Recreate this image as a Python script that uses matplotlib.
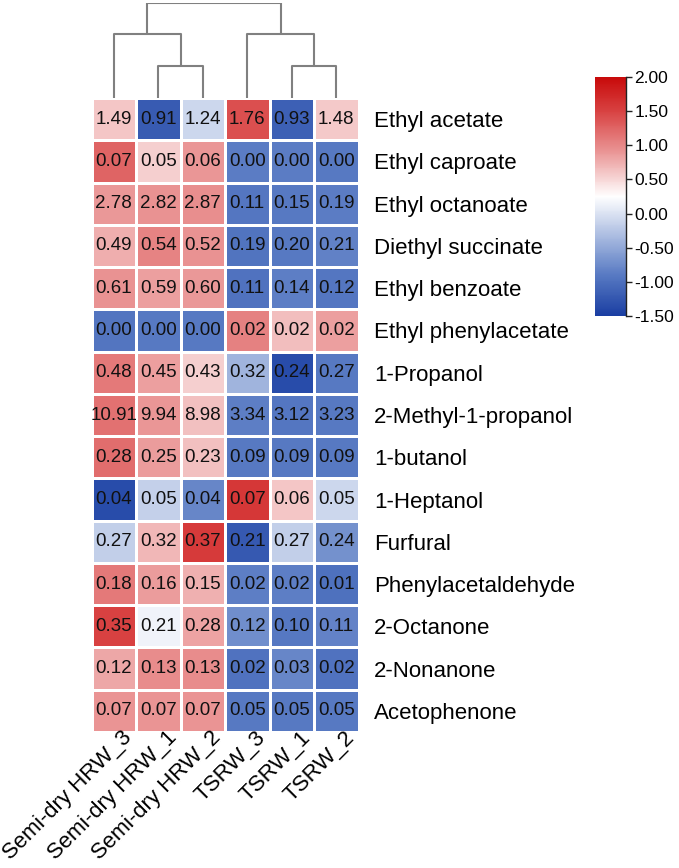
import numpy as np
import matplotlib
matplotlib.use("Agg")
import matplotlib.pyplot as plt
import matplotlib.transforms as mtrans
from matplotlib.colors import LinearSegmentedColormap, Normalize

plt.rcParams['font.family'] = ['Liberation Sans', 'DejaVu Sans']

samples = ["Semi-dry HRW_3", "Semi-dry HRW_1", "Semi-dry HRW_2", "TSRW_3", "TSRW_1", "TSRW_2"]
compounds = ["Ethyl acetate", "Ethyl caproate", "Ethyl octanoate", "Diethyl succinate",
             "Ethyl benzoate", "Ethyl phenylacetate", "1-Propanol", "2-Methyl-1-propanol",
             "1-butanol", "1-Heptanol", "Furfural", "Phenylacetaldehyde", "2-Octanone",
             "2-Nonanone", "Acetophenone"]

# displayed concentrations
values = [
    [1.49, 0.91, 1.24, 1.76, 0.93, 1.48],
    [0.07, 0.05, 0.06, 0.00, 0.00, 0.00],
    [2.78, 2.82, 2.87, 0.11, 0.15, 0.19],
    [0.49, 0.54, 0.52, 0.19, 0.20, 0.21],
    [0.61, 0.59, 0.60, 0.11, 0.14, 0.12],
    [0.00, 0.00, 0.00, 0.02, 0.02, 0.02],
    [0.48, 0.45, 0.43, 0.32, 0.24, 0.27],
    [10.91, 9.94, 8.98, 3.34, 3.12, 3.23],
    [0.28, 0.25, 0.23, 0.09, 0.09, 0.09],
    [0.04, 0.05, 0.04, 0.07, 0.06, 0.05],
    [0.27, 0.32, 0.37, 0.21, 0.27, 0.24],
    [0.18, 0.16, 0.15, 0.02, 0.02, 0.01],
    [0.35, 0.21, 0.28, 0.12, 0.10, 0.11],
    [0.12, 0.13, 0.13, 0.02, 0.03, 0.02],
    [0.07, 0.07, 0.07, 0.05, 0.05, 0.05],
]

# row-scaled colour scores
scores = [
    [0.60, -1.20, -0.10, 1.40, -1.15, 0.58],
    [1.25, 0.55, 0.90, -0.88, -0.88, -0.90],
    [0.89, 0.92, 0.96, -0.93, -0.91, -0.88],
    [0.75, 1.03, 0.92, -0.96, -0.90, -0.84],
    [0.93, 0.85, 0.89, -0.97, -0.86, -0.93],
    [-0.95, -0.90, -0.90, 1.05, 0.65, 0.85],
    [1.10, 0.85, 0.55, -0.40, -1.35, -0.90],
    [1.16, 0.90, 0.64, -0.87, -0.93, -0.90],
    [1.19, 0.86, 0.64, -0.90, -0.90, -0.90],
    [-1.35, -0.15, -0.80, 1.60, 0.60, -0.10],
    [-0.17, 0.70, 1.57, -1.22, -0.17, -0.70],
    [1.11, 0.86, 0.74, -0.86, -0.86, -0.99],
    [1.50, 0.15, 0.82, -0.73, -0.92, -0.82],
    [0.79, 0.97, 0.97, -0.97, -0.79, -0.97],
    [0.91, 0.91, 0.91, -0.91, -0.91, -0.91],
]

# dendrogram merges: (left x, right x, height) in leaf units, heights relative
dendro_links = [
    (1.0, 2.0, 0.34),   # HRW_1 + HRW_2
    (0.0, 1.5, 0.67),   # HRW_3 + (HRW_1,HRW_2)
    (4.0, 5.0, 0.34),   # TSRW_1 + TSRW_2
    (3.0, 4.5, 0.67),   # TSRW_3 + (TSRW_1,TSRW_2)
    (0.75, 3.75, 1.0),  # root
]
child_heights = [
    (0.0, 0.0),
    (0.0, 0.34),
    (0.0, 0.0),
    (0.0, 0.34),
    (0.67, 0.67),
]

cbar_ticks = [2.00, 1.50, 1.00, 0.50, 0.00, -0.50, -1.00, -1.50]

W, H = 679, 868
fig = plt.figure(figsize=(W / 100, H / 100), dpi=100)

def fx(px):
    return px / W

def fy(py):
    return 1 - py / H

hx0, hx1 = 91.5, 358.5
hy0, hy1 = 98, 732
ax = fig.add_axes([fx(hx0), fy(hy1), fx(hx1) - fx(hx0), fy(hy0) - fy(hy1)])

vmin, vmax = -1.5, 2.0
def pos(v):
    return (v - vmin) / (vmax - vmin)

cnodes = [
    (pos(-1.5), (26 / 255, 62 / 255, 162 / 255)),
    (pos(-0.9), (88 / 255, 122 / 255, 195 / 255)),
    (pos(0.25), (1.0, 1.0, 1.0)),
    (pos(0.9), (234 / 255, 150 / 255, 150 / 255)),
    (pos(1.5), (216 / 255, 66 / 255, 66 / 255)),
    (pos(2.0), (200 / 255, 10 / 255, 10 / 255)),
]
cmap = LinearSegmentedColormap.from_list("bwr_custom", cnodes)
norm = Normalize(vmin=vmin, vmax=vmax)

S = np.array(scores)
V = np.array(values)
nr, nc = S.shape
ax.pcolormesh(np.arange(nc + 1), np.arange(nr + 1), S, cmap=cmap, norm=norm,
              edgecolors="white", linewidth=1.0)
ax.set_xlim(0, nc)
ax.set_ylim(nr, 0)
for i in range(nr):
    for j in range(nc):
        ax.text(j + 0.5, i + 0.5, f"{V[i, j]:.2f}", ha="center", va="center",
                fontsize=13.5, color="#111111")

ax.yaxis.tick_right()
ax.set_yticks(np.arange(nr) + 0.5)
ax.set_yticklabels(compounds, fontsize=16)
ax.set_xticks([])
ax.tick_params(axis="both", length=0)
ax.tick_params(axis="y", pad=11)
for sp in ax.spines.values():
    sp.set_visible(False)

# rotated column labels
base = mtrans.blended_transform_factory(ax.transData, ax.transAxes)
shift = mtrans.ScaledTranslation(8 / 100, 5 / 100, fig.dpi_scale_trans)
for j, name in enumerate(samples):
    ax.text(j + 0.5, 0, name, transform=base + shift, rotation=45,
            ha="right", va="top", rotation_mode="anchor", fontsize=16)

# dendrogram
dax = fig.add_axes([fx(hx0), fy(hy0), fx(hx1) - fx(hx0), fy(3) - fy(hy0)])
for (xl, xr, h), (hl, hr) in zip(dendro_links, child_heights):
    dax.plot([xl + 0.5, xl + 0.5, xr + 0.5, xr + 0.5], [hl, h, h, hr],
             color="#808080", lw=1.5, solid_capstyle="butt")
dax.set_xlim(0, nc)
dax.set_ylim(0, 1.0)
dax.axis("off")

# colorbar
cax = fig.add_axes([fx(595), fy(316), fx(626) - fx(595), fy(77) - fy(316)])
sm = matplotlib.cm.ScalarMappable(norm=norm, cmap=cmap)
cb = fig.colorbar(sm, cax=cax, ticks=cbar_ticks)
cb.outline.set_visible(False)
cax.plot([1, 1], [0, 1], transform=cax.transAxes, color="#222222", lw=1.0, clip_on=False)
cb.set_ticklabels([f"{t:.2f}" for t in cbar_ticks])
cax.tick_params(labelsize=12.5, length=4, width=1.0, color="#222222", pad=2)

fig.savefig("out.png", dpi=100)
